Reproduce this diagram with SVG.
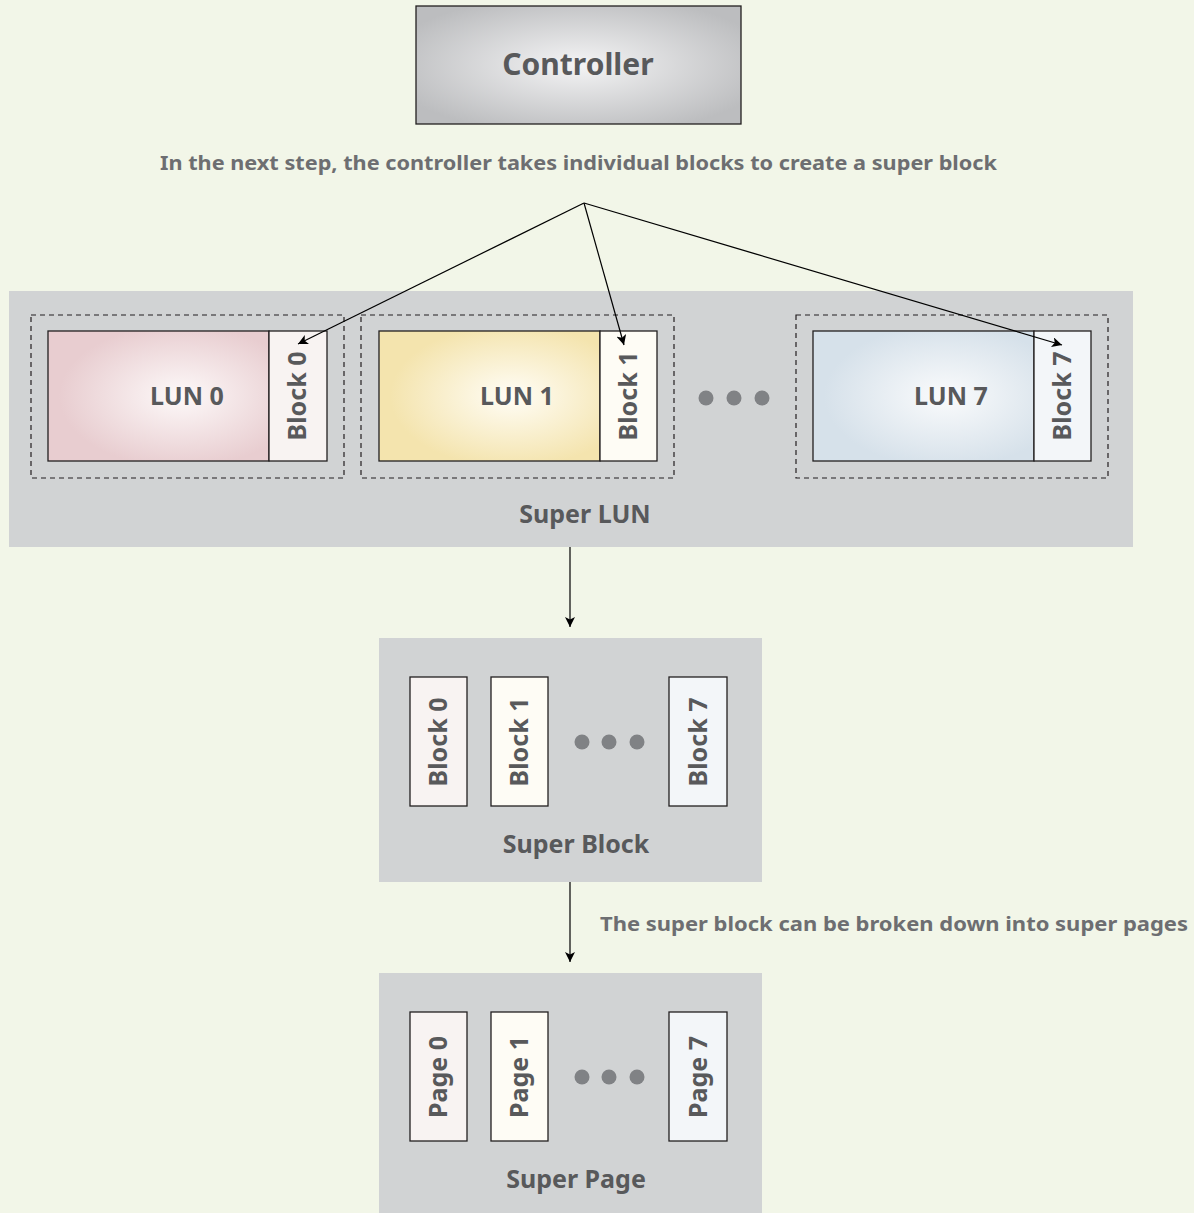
<svg xmlns="http://www.w3.org/2000/svg" width="1194" height="1213" viewBox="0 0 1194 1213">
<style>
.t{font-family:"Noto Sans","Open Sans","Liberation Sans",sans-serif;font-weight:bold;fill:#58595b;text-anchor:middle}
.big{font-size:25px}
.cap{font-size:20px;fill:#6d6e71;text-anchor:start}
.panel{fill:#d1d3d4}
.box{stroke:#231f20;stroke-width:1.3}
.dash{fill:none;stroke:#231f20;stroke-width:1.2;stroke-dasharray:5 4}
.dot{fill:#808285}
.ln{stroke:#000;stroke-width:1.2;fill:none;marker-end:url(#ah)}
</style>
<defs>
<marker id="ah" viewBox="0 0 10 10" refX="10" refY="5" markerWidth="10" markerHeight="10" markerUnits="userSpaceOnUse" orient="auto">
<path d="M0,0 L10,5 L0,10 L2.5,5 Z" fill="#000"/>
</marker>
<radialGradient id="gc" cx="50%" cy="50%" r="60%">
<stop offset="0" stop-color="#f4f4f5"/><stop offset="1" stop-color="#bcbdbf"/>
</radialGradient>
<radialGradient id="g0" cx="60%" cy="50%" r="55%">
<stop offset="0" stop-color="#fdf9f9"/><stop offset="1" stop-color="#e8cdd0"/>
</radialGradient>
<radialGradient id="g1" cx="60%" cy="50%" r="55%">
<stop offset="0" stop-color="#fffdf6"/><stop offset="1" stop-color="#f4e4ae"/>
</radialGradient>
<radialGradient id="g7" cx="60%" cy="50%" r="55%">
<stop offset="0" stop-color="#fafbfc"/><stop offset="1" stop-color="#d6e1ea"/>
</radialGradient>
</defs>
<rect width="1194" height="1213" fill="#f2f6e8"/>

<g id="controller">
<rect x="416" y="6" width="325" height="118" fill="url(#gc)" class="box"/>
<text x="578" y="75" class="t" font-size="30">Controller</text>
</g>
<text id="caption1" x="160" y="170" class="t cap" textLength="837" lengthAdjust="spacingAndGlyphs">In the next step, the controller takes individual blocks to create a super block</text>

<g id="superlun">
<rect x="9" y="291" width="1124" height="256" class="panel"/>
<text x="585" y="523" class="t big">Super LUN</text>
<circle cx="706" cy="398" r="7.5" class="dot"/><circle cx="734" cy="398" r="7.5" class="dot"/><circle cx="762" cy="398" r="7.5" class="dot"/>
</g>

<g id="lun0">
<rect x="31" y="315" width="313" height="163" class="dash"/>
<rect x="48" y="331" width="221" height="130" fill="url(#g0)" class="box"/>
<text x="187" y="405" class="t big">LUN 0</text>
</g>
<g id="block0">
<rect x="269" y="331" width="58" height="130" fill="#f8f3f2" class="box"/>
<text transform="translate(306,396) rotate(-90)" class="t big">Block 0</text>
</g>
<g id="lun1">
<rect x="361" y="315" width="313" height="163" class="dash"/>
<rect x="379" y="331" width="221" height="130" fill="url(#g1)" class="box"/>
<text x="517" y="405" class="t big">LUN 1</text>
</g>
<g id="block1">
<rect x="600" y="331" width="57" height="130" fill="#fefcf5" class="box"/>
<text transform="translate(637,396) rotate(-90)" class="t big">Block 1</text>
</g>
<g id="lun7">
<rect x="796" y="315" width="312" height="163" class="dash"/>
<rect x="813" y="331" width="221" height="130" fill="url(#g7)" class="box"/>
<text x="951" y="405" class="t big">LUN 7</text>
</g>
<g id="block7">
<rect x="1034" y="331" width="57" height="130" fill="#f3f6f9" class="box"/>
<text transform="translate(1071,396) rotate(-90)" class="t big">Block 7</text>
</g>

<g id="superblock">
<rect x="379" y="638" width="383" height="244" class="panel"/>
<rect x="410" y="677" width="57" height="129" fill="#f8f3f2" class="box"/>
<text transform="translate(447,742) rotate(-90)" class="t big">Block 0</text>
<rect x="491" y="677" width="57" height="129" fill="#fefcf5" class="box"/>
<text transform="translate(528,742) rotate(-90)" class="t big">Block 1</text>
<rect x="669" y="677" width="58" height="129" fill="#f3f6f9" class="box"/>
<text transform="translate(707,742) rotate(-90)" class="t big">Block 7</text>
<circle cx="582" cy="742" r="7.5" class="dot"/><circle cx="609" cy="742" r="7.5" class="dot"/><circle cx="637" cy="742" r="7.5" class="dot"/>
<text x="576" y="853" class="t big">Super Block</text>
</g>

<text id="caption2" x="600" y="931" class="t cap" textLength="588" lengthAdjust="spacingAndGlyphs">The super block can be broken down into super pages</text>

<g id="superpage">
<rect x="379" y="973" width="383" height="240" class="panel"/>
<rect x="410" y="1012" width="57" height="129" fill="#f8f3f2" class="box"/>
<text transform="translate(447,1077) rotate(-90)" class="t big">Page 0</text>
<rect x="491" y="1012" width="57" height="129" fill="#fefcf5" class="box"/>
<text transform="translate(528,1077) rotate(-90)" class="t big">Page 1</text>
<rect x="669" y="1012" width="58" height="129" fill="#f3f6f9" class="box"/>
<text transform="translate(707,1077) rotate(-90)" class="t big">Page 7</text>
<circle cx="582" cy="1077" r="7.5" class="dot"/><circle cx="609" cy="1077" r="7.5" class="dot"/><circle cx="637" cy="1077" r="7.5" class="dot"/>
<text x="576" y="1188" class="t big">Super Page</text>
</g>

<g id="connectors">
<path d="M584,203 L298,344" class="ln"/>
<path d="M584,203 L624,345" class="ln"/>
<path d="M584,203 L1062,345" class="ln"/>
<path d="M570,547 L570,627" class="ln"/>
<path d="M570,882 L570,962" class="ln"/>
</g>
</svg>
